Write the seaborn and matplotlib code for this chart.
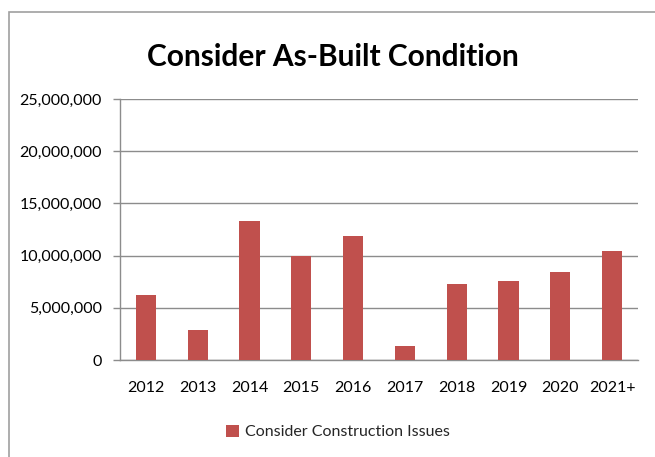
import matplotlib
matplotlib.use("Agg")
import matplotlib.pyplot as plt
import matplotlib.ticker as mticker
from matplotlib.patches import Rectangle, Patch
import seaborn as sns
import pandas as pd

years = ["2012", "2013", "2014", "2015", "2016", "2017", "2018", "2019", "2020", "2021+"]
construction_issues = [6200000, 2870000, 13340000, 10000000, 11900000,
                       1340000, 7280000, 7540000, 8460000, 10470000]
series_name = "Consider Construction Issues"
title = "Consider As-Built Condition"

df = pd.DataFrame({"year": years, "value": construction_issues})

sns.set_theme(style="white")
font = ["Lato", "DejaVu Sans"]
plt.rcParams["font.family"] = font

bar_color = "#C0504D"
grid_color = "#8C8C8C"
tick_size = 11.5

fig = plt.figure(figsize=(6.55, 4.57), dpi=100)
ax = fig.add_axes([120 / 655, 1 - 360 / 457, 518 / 655, 261 / 457])

sns.barplot(data=df, x="year", y="value", color=bar_color, width=0.39,
            saturation=1, linewidth=0, ax=ax, zorder=3)

ax.set_ylim(0, 25000000)
ax.set_xlim(-0.5, len(years) - 0.5)
ax.yaxis.set_major_locator(mticker.MultipleLocator(5000000))
ax.yaxis.set_major_formatter(mticker.FuncFormatter(lambda v, p: f"{int(v):,}"))
ax.grid(axis="y", color=grid_color, linewidth=1.0, zorder=0)
ax.set_axisbelow(True)

for side in ["top", "right"]:
    ax.spines[side].set_visible(False)
for side in ["left", "bottom"]:
    ax.spines[side].set_color(grid_color)
    ax.spines[side].set_linewidth(1.0)

ax.set_xlabel("")
ax.set_ylabel("")

# category boundary ticks on the x axis
ax.set_xticks([i - 0.5 for i in range(len(years) + 1)], minor=True)
ax.tick_params(axis="x", which="minor", length=5, color=grid_color, width=1, direction="out")
ax.tick_params(axis="x", which="major", length=0, pad=15, labelsize=tick_size, labelcolor="black")
ax.tick_params(axis="y", which="major", length=5, color=grid_color, width=1,
               direction="out", pad=8, labelsize=tick_size, labelcolor="black", left=True)

fig.text(333 / 655, 1 - 66 / 457, title, ha="center", va="baseline",
         fontsize=21.5, fontweight="bold", color="black", family=font)

handle = Patch(facecolor=bar_color, edgecolor="none")
fig.legend([handle], [series_name], loc="center", bbox_to_anchor=(338 / 655, 1 - 432 / 457),
           frameon=False, handlelength=0.8, handleheight=0.8,
           handletextpad=0.35, prop={"family": font, "size": tick_size})

# outer chart frame
fig.patches.append(Rectangle((9 / 655, -0.05), 1.1, 1 - 12 / 457 + 0.05,
                             transform=fig.transFigure, fill=False,
                             edgecolor="#A0A0A0", linewidth=1.2))

fig.savefig("out.png", dpi=100, facecolor="white")
